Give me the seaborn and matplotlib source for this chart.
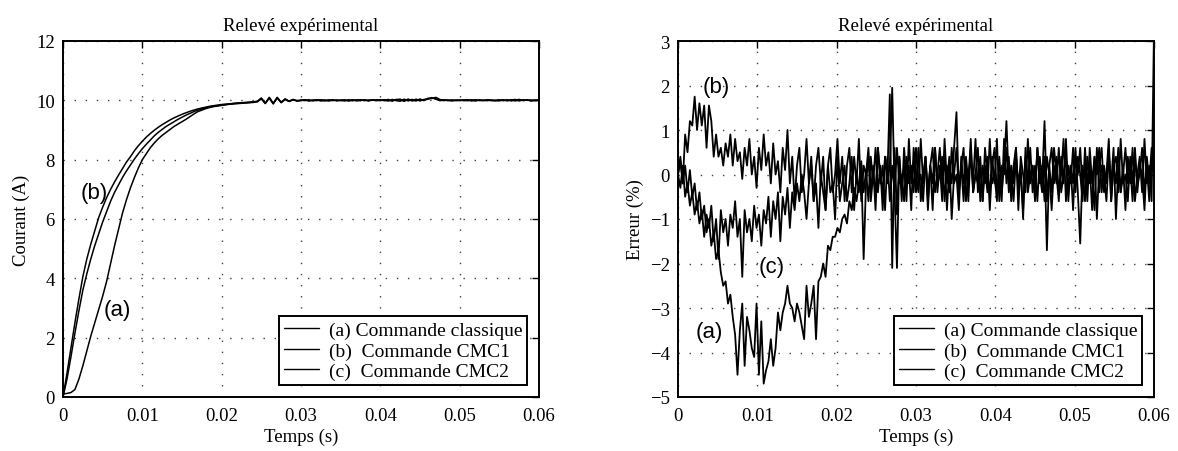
import numpy as np
import pandas as pd
import matplotlib
matplotlib.use("Agg")
import matplotlib.pyplot as plt
import seaborn as sns

# ---------------------------------------------------------------- data
# Courant mesuré (A), échantillonné toutes les 0.5 ms de 0 à 0.06 s
dt_courant = 0.0005
courant_a = [
    0.10, 0.12, 0.15, 0.25, 0.60, 1.05, 1.55, 2.05, 2.50, 2.95,
    3.40, 3.90, 4.50, 5.10, 5.65, 6.20, 6.65, 7.05, 7.40, 7.72,
    8.00, 8.20, 8.40, 8.56, 8.70, 8.82, 8.92, 9.02, 9.12, 9.20,
    9.28, 9.36, 9.45, 9.54, 9.62, 9.67, 9.72, 9.76, 9.79, 9.81,
    9.83, 9.85, 9.87, 9.88, 9.89, 9.90, 9.91, 9.92, 9.93, 9.95,
    10.06, 9.90, 10.09, 9.88, 10.10, 9.92, 10.04, 9.96, 10.02, 9.98,
    10.01, 9.99, 10.02, 9.98, 10.01, 10.00, 9.98, 10.02, 9.99, 10.01,
    10.00, 9.98, 10.02, 9.99, 10.01, 10.02, 9.99, 10.01, 10.00, 10.02,
    10.01, 9.99, 10.03, 9.98, 10.02, 10.04, 9.97, 10.03, 9.98, 10.04,
    9.98, 10.03, 10.05, 10.09, 10.04, 9.99, 10.01, 10.00, 9.98, 10.01,
    10.00, 10.01, 9.99, 10.00, 10.02, 9.99, 10.00, 10.01, 9.99, 10.00,
    9.98, 10.02, 9.99, 10.01, 10.03, 9.98, 10.02, 10.00, 10.01, 9.99,
    10.00,
]
courant_b = [
    0.00, 0.80, 1.65, 2.50, 3.30, 4.05, 4.65, 5.15, 5.60, 6.05,
    6.40, 6.72, 7.00, 7.25, 7.48, 7.70, 7.92, 8.10, 8.30, 8.47,
    8.62, 8.76, 8.88, 8.99, 9.09, 9.18, 9.26, 9.34, 9.41, 9.47,
    9.53, 9.58, 9.63, 9.67, 9.71, 9.74, 9.77, 9.80, 9.82, 9.84,
    9.86, 9.87, 9.88, 9.90, 9.91, 9.92, 9.93, 9.94, 9.95, 9.97,
    10.08, 9.89, 10.10, 9.90, 10.08, 9.93, 10.05, 9.97, 10.03, 9.99,
    9.99, 10.01, 9.98, 10.01, 9.99, 10.02, 10.00, 9.98, 10.01, 10.00,
    9.99, 10.02, 9.98, 10.00, 10.01, 9.99, 10.02, 9.98, 10.01, 9.99,
    10.02, 10.00, 9.98, 10.03, 9.99, 9.97, 10.04, 9.98, 10.03, 10.00,
    10.04, 9.99, 10.07, 10.06, 10.10, 10.03, 9.99, 10.01, 10.00, 9.99,
    10.01, 9.99, 10.00, 10.02, 9.98, 10.01, 10.00, 9.99, 10.01, 10.00,
    10.01, 9.99, 10.02, 9.98, 10.01, 10.03, 9.99, 10.01, 9.98, 10.00,
    10.00,
]
courant_c = [
    0.00, 0.60, 1.35, 2.15, 2.90, 3.60, 4.15, 4.65, 5.10, 5.50,
    5.90, 6.25, 6.60, 6.90, 7.15, 7.40, 7.62, 7.82, 8.02, 8.20,
    8.37, 8.52, 8.66, 8.80, 8.92, 9.02, 9.12, 9.20, 9.28, 9.36,
    9.43, 9.50, 9.56, 9.62, 9.67, 9.71, 9.75, 9.78, 9.80, 9.82,
    9.84, 9.86, 9.87, 9.89, 9.90, 9.91, 9.92, 9.93, 9.94, 9.96,
    10.05, 9.91, 10.07, 9.89, 10.09, 9.94, 10.03, 9.97, 10.02, 9.98,
    10.00, 10.02, 9.99, 10.00, 10.02, 9.98, 10.01, 9.99, 10.02, 9.98,
    10.01, 10.00, 9.99, 10.02, 9.98, 10.00, 10.01, 9.99, 10.02, 10.00,
    9.99, 10.02, 10.00, 9.98, 10.03, 10.01, 9.98, 10.04, 10.00, 9.98,
    10.03, 10.01, 10.04, 10.08, 10.05, 10.00, 10.02, 9.99, 10.01, 10.00,
    9.99, 10.01, 10.02, 9.98, 10.00, 10.01, 9.99, 10.02, 10.00, 9.98,
    10.02, 10.00, 9.99, 10.02, 9.98, 10.01, 10.00, 10.02, 9.99, 10.01,
    10.00,
]

# Erreur de suivi (%), échantillonnée toutes les 0.3 ms de 0 à 0.06 s
dt_erreur = 0.0003
erreur_a = [
    0.0, 0.3, -0.2, 0.2, -0.4, 0.1, -0.5, -0.2, -0.8, -0.4,
    -1.0, -0.7, -1.3, -1.0, -1.6, -1.3, -1.9, -1.7, -2.2, -2.5,
    -2.4, -2.9, -2.7, -3.2, -3.6, -4.5, -3.5, -2.9, -4.3, -3.2,
    -3.5, -3.9, -4.1, -2.9, -4.5, -3.3, -4.7, -4.4, -4.2, -3.7,
    -4.3, -3.9, -3.1, -3.5, -3.1, -2.9, -2.5, -2.9, -3.0, -3.3,
    -2.9, -3.1, -3.4, -3.7, -2.5, -3.2, -2.9, -2.5, -3.7, -2.4,
    -2.3, -2.0, -2.3, -1.6, -1.7, -1.4, -1.4, -1.2, -1.3, -1.0,
    -0.9, -1.1, -0.6, -0.8, -0.3, -0.6, -0.2, 0.3, -0.4, 0.1,
    -0.6, 0.4, -0.2, 0.6, -0.4, 0.2, -0.8, 0.4, 0.0, 1.8,
    -2.1, 0.6, -0.9, 0.4, -0.3, 0.2, -0.6, 0.8, -0.2, 0.3,
    -0.4, 0.6, -0.6, 0.0, 0.4, -0.8, 0.2, -0.2, 0.6, -0.4,
    0.2, -0.6, 0.8, -0.2, 0.4, -1.0, 0.0, 0.6, -0.4, 0.2,
    -0.6, 0.4, -0.2, 0.8, -0.4, 0.0, 0.6, -0.6, 0.2, -0.2,
    0.4, -0.8, 0.2, 0.6, -0.4, 0.0, -0.6, 0.8, -0.2, 0.4,
    -0.6, 0.2, 0.6, -0.4, 0.0, -0.8, 0.4, -0.2, 0.6, -0.4,
    0.2, -0.6, 0.4, -0.2, 1.2, -0.6, 0.2, -0.4, 0.6, 0.0,
    -0.6, 0.4, -0.2, 0.8, -0.4, 0.2, -0.8, 0.4, 0.0, 0.6,
    -0.4, 0.2, -0.6, 0.6, -0.2, 0.4, -1.0, 0.2, 0.6, -0.4,
    0.0, 0.8, -0.6, 0.2, -0.2, 0.6, -0.4, 0.2, -0.8, 0.4,
    -0.2, 0.6, -0.6, 0.0, 0.4, -0.4, 0.8, -0.2, 0.2, -0.6,
    3.3,
]
erreur_b = [
    0.0, 0.4, -0.2, 0.9, 0.5, 1.2, 1.1, 1.75, 1.0, 1.6,
    1.1, 1.55, 0.6, 1.55, 1.2, 0.4, 0.9, 0.4, 0.6, 0.2,
    0.7, 0.4, 0.9, 0.2, 0.8, 0.3, 0.5, -0.1, 0.6, 0.2,
    0.8, 0.0, 0.4, -0.3, 0.6, 0.1, 0.9, 0.2, 0.5, -0.2,
    0.7, 0.0, 0.3, -0.4, 0.6, 0.1, 1.0, -0.2, 0.4, -0.6,
    0.2, 0.6, -0.4, 0.0, 0.8, -0.2, 0.4, -0.6, 0.2, 0.6,
    -0.2, 0.4, -0.8, 0.2, 0.6, -0.4, 0.0, 0.8, -0.2, 0.4,
    -0.6, 0.2, 0.6, -0.4, 0.4, -0.2, 0.8, -0.6, 0.2, 0.0,
    0.6, -0.4, 0.2, -0.8, 0.6, 0.0, -0.4, 0.4, -0.2, 0.2,
    1.95, -0.4, -2.1, 0.4, -0.6, 0.6, -0.2, 0.2, -0.8, 0.6,
    0.0, -0.4, 0.8, -0.2, 0.4, -0.6, 0.2, 0.6, -0.4, 0.0,
    0.6, -0.2, 0.4, -0.8, 0.2, -0.2, 0.6, 1.4, -0.4, 0.2,
    0.6, -0.6, 0.0, 0.4, -0.2, 0.8, -0.4, 0.2, -0.6, 0.6,
    0.0, -0.4, 0.4, -0.2, 0.8, -0.6, 0.2, 0.0, 0.6, -0.4,
    0.2, -0.2, 0.6, -0.8, 0.4, 0.0, -0.4, 0.8, -0.2, 0.2,
    -0.6, 0.6, 0.0, -0.4, 0.4, -1.7, 0.2, 0.6, -0.2, 0.4,
    -0.4, 0.0, 0.8, -0.6, 0.2, -0.2, 0.6, -0.4, 0.4, 0.0,
    -0.6, 0.6, -0.2, 0.2, -0.8, 0.4, 0.0, 0.6, -0.4, 0.2,
    -0.2, 0.6, -0.6, 0.2, 0.4, -0.4, 0.8, -0.2, 0.0, -0.6,
    0.4, -0.2, 0.6, -0.4, 0.2, 0.0, -0.8, 0.4, -0.2, 0.6,
    0.2,
]
erreur_c = [
    0.0, -0.3, 0.2, -0.5, -0.2, -0.7, -0.4, -0.9, -0.6, -1.1,
    -0.8, -1.4, -0.9, -1.2, -0.7, -1.5, -1.0, -1.9, -0.8, -1.3,
    -1.0, -1.6, -0.9, -1.2, -0.6, -1.4, -1.0, -2.3, -0.8, -1.3,
    -1.0, -1.5, -0.7, -1.2, -0.9, -1.6, -0.8, -1.1, -0.5, -1.4,
    -0.6, -1.0, -0.4, -1.5, -0.5, -0.9, -0.3, -1.2, -0.4, -0.8,
    -0.2, -0.6, 0.0, -0.4, -1.0, -0.2, 0.2, -0.6, -0.2, -1.2,
    0.0, -0.4, -0.8, 0.2, -0.4, -0.2, -1.0, 0.4, -0.6, -0.2,
    0.2, -0.6, -0.2, 0.4, -0.8, 0.0, -0.4, 0.2, -1.9, -0.2,
    0.4, -0.6, 0.0, -0.4, 0.6, -0.2, 0.2, -0.8, 0.4, -0.6,
    0.2, -0.4, 0.6, -0.2, 0.0, -0.6, 0.4, -0.2, 0.2, -0.4,
    0.6, -0.2, 0.0, -0.6, 0.4, -0.4, 0.2, -0.8, 0.6, -0.2,
    0.0, 0.4, -0.6, 0.2, -0.4, 0.6, -0.2, 0.0, -0.8, 0.4,
    -0.2, 0.2, -0.6, 0.6, -0.4, 0.0, -0.2, 0.4, -0.6, 0.2,
    -0.4, 0.8, -0.2, 0.0, -0.6, 0.4, -0.4, 0.2, 1.2, -0.2,
    0.0, -0.6, 0.4, -0.2, 0.2, -1.0, 0.6, -0.4, 0.0, 0.2,
    -0.4, 0.6, -0.2, 0.2, -0.6, 0.4, 0.0, -0.8, 0.2, -0.2,
    0.6, -0.4, 0.0, 0.4, -0.6, 0.2, -0.2, 0.6, -0.4, -1.55,
    0.2, -0.6, 0.4, -0.2, 0.0, -0.8, 0.6, -0.4, 0.2, 0.0,
    -0.6, 0.4, -0.2, 0.6, -1.0, 0.2, -0.4, 0.0, 0.6, -0.2,
    0.2, -0.6, 0.4, -0.2, 0.0, 0.6, -0.4, 0.2, -0.6, 0.4,
    0.0,
]

legend_labels = ["(a) Commande classique", "(b)  Commande CMC1", "(c)  Commande CMC2"]
x_ticks = [0, 0.01, 0.02, 0.03, 0.04, 0.05, 0.06]
x_tick_labels = ["0", "0.01", "0.02", "0.03", "0.04", "0.05", "0.06"]
courant_ticks = [0, 2, 4, 6, 8, 10, 12]
erreur_ticks = [-5, -4, -3, -2, -1, 0, 1, 2, 3]

# ---------------------------------------------------------------- style
sns.set_theme(style="white")
plt.rcParams.update({
    "font.family": ["Liberation Serif", "DejaVu Serif"],
    "font.size": 13.5,
    "axes.edgecolor": "black",
    "axes.linewidth": 1.4,
    "xtick.color": "black",
    "ytick.color": "black",
    "axes.labelcolor": "black",
    "text.color": "black",
})
SANS = ["Liberation Sans", "DejaVu Sans"]

t_courant = np.arange(len(courant_a)) * dt_courant
t_erreur = np.arange(len(erreur_a)) * dt_erreur

df_courant = pd.DataFrame({"t": t_courant, "a": courant_a, "b": courant_b, "c": courant_c})
df_erreur = pd.DataFrame({"t": t_erreur, "a": erreur_a, "b": erreur_b, "c": erreur_c})

fig = plt.figure(figsize=(11.78, 4.52), dpi=100)
ax1 = fig.add_axes([63 / 1178, 54 / 452, 476 / 1178, 356 / 452])
ax2 = fig.add_axes([678 / 1178, 54 / 452, 476 / 1178, 356 / 452])


def draw_panel(ax, df, yticks, ylabel, lw):
    for key, lab in zip(["a", "b", "c"], legend_labels):
        sns.lineplot(data=df, x="t", y=key, ax=ax, color="black", linewidth=lw,
                     estimator=None, sort=False, label=lab)
    ax.set_xlim(0, 0.06)
    ax.set_ylim(yticks[0], yticks[-1])
    ax.set_xticks(x_ticks)
    ax.set_xticklabels(x_tick_labels)
    ax.set_yticks(yticks)
    ax.set_yticklabels([str(v).replace("-", "\u2212") for v in yticks])
    ax.tick_params(direction="in", length=5, width=1.0, top=True, right=True,
                   labelsize=13.5)
    ax.tick_params(axis="x", pad=7)
    ax.tick_params(axis="y", pad=6)
    ax.grid(True, color="0.25", linewidth=1.0, linestyle=(0, (1, 7)))
    for sp in ax.spines.values():
        sp.set_visible(True)
        sp.set_color("black")
        sp.set_linewidth(1.4)
    ax.set_title("Relevé expérimental", fontsize=13.5, pad=8)
    ax.set_xlabel("Temps (s)", fontsize=13.5, labelpad=3)
    ax.set_ylabel(ylabel, fontsize=13.5, labelpad=4)
    leg = ax.legend(loc="lower right", bbox_to_anchor=(464 / 476, 12 / 356),
                    borderaxespad=0, fancybox=False, framealpha=1,
                    edgecolor="black", fontsize=14, handlelength=1.8,
                    handletextpad=0.5, labelspacing=0.15, borderpad=0.25)
    leg.get_frame().set_linewidth(1.4)
    for line in leg.get_lines():
        line.set_linewidth(1.0)


draw_panel(ax1, df_courant, courant_ticks, "Courant (A)", 1.1)
draw_panel(ax2, df_erreur, erreur_ticks, "Erreur (%)", 1.3)

# Curve annotations
ax1.text(0.0039, 6.9, "(b)", family=SANS, fontsize=16, ha="center", va="center")
ax1.text(0.0069, 2.96, "(a)", family=SANS, fontsize=16, ha="center", va="center")
ax2.text(0.0048, 1.97, "(b)", family=SANS, fontsize=16, ha="center", va="center")
ax2.text(0.0118, -2.06, "(c)", family=SANS, fontsize=16, ha="center", va="center")
ax2.text(0.0039, -3.52, "(a)", family=SANS, fontsize=16, ha="center", va="center")

fig.savefig("out.png", dpi=100)
